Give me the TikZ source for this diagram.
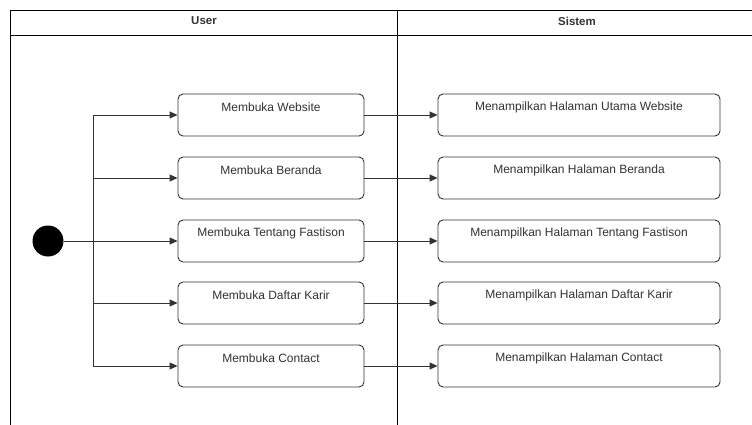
\documentclass[tikz,border=0pt]{standalone}
\usepackage{fontspec}
\setmainfont{Liberation Sans}
\usetikzlibrary{arrows.meta}
\definecolor{ln}{HTML}{333333}
\definecolor{tx}{HTML}{333333}
\begin{document}
\begin{tikzpicture}[x=1pt,y=-1pt,
  box/.style={draw=ln,line width=0.9pt,rounded corners=5pt,minimum height=42pt,inner sep=0pt},
  lbox/.style={box,minimum width=186pt},
  rbox/.style={box,minimum width=282pt},
  txt/.style={text=tx,font=\fontsize{12}{14}\selectfont,inner sep=0pt,anchor=center},
  hdr/.style={font=\bfseries\fontsize{11.5}{13}\selectfont,inner sep=0pt,text=ln},
  arr/.style={draw=ln,line width=0.9pt,-{Triangle[length=8pt,width=7pt]}},
  frame/.style={draw=black,line width=0.8pt}]
\useasboundingbox (0,0) rectangle (752,425);
\fill[white] (0,0) rectangle (752,425);
% swimlanes
\begin{scope}
\clip (0,0) rectangle (752,425);
\draw[frame] (10,440) -- (10,10) -- (770,10);
\draw[frame] (10,35) -- (770,35);
\draw[frame] (397,10) -- (397,440);
\end{scope}
\node[hdr] (hu) at (204,21) {User};
\node[hdr] (hs) at (577,21) {Sistem};
% boxes
\foreach \i/\y/\a/\b in {
  1/115/Membuka Website/Menampilkan Halaman Utama Website,
  2/178/Membuka Beranda/Menampilkan Halaman Beranda,
  3/241/Membuka Tentang Fastison/Menampilkan Halaman Tentang Fastison,
  4/303/Membuka Daftar Karir/Menampilkan Halaman Daftar Karir,
  5/366/Membuka Contact/Menampilkan Halaman Contact}{
  \node[lbox] (l\i) at (271,\y) {};
  \node[rbox] (r\i) at (579,\y) {};
  \node[txt] (lt\i) at ([yshift=-14pt]l\i.north) {\a};
  \node[txt] (rt\i) at ([yshift=-14pt]r\i.north) {\b};
  \draw[arr] (l\i.east) -- (r\i.west);
}
% start
\node[circle,fill=black,minimum size=31pt,inner sep=0pt] (start) at (48,241) {};
\foreach \i/\y in {1/115,2/178,4/303,5/366}{
  \coordinate (j\i) at (93,\y);
  \draw[arr] (j\i) -- (l\i.west);
}
\draw[draw=ln,line width=0.9pt] (j1) -- (j5);
\draw[arr] (start) -- (l3.west);
\end{tikzpicture}
\end{document}
